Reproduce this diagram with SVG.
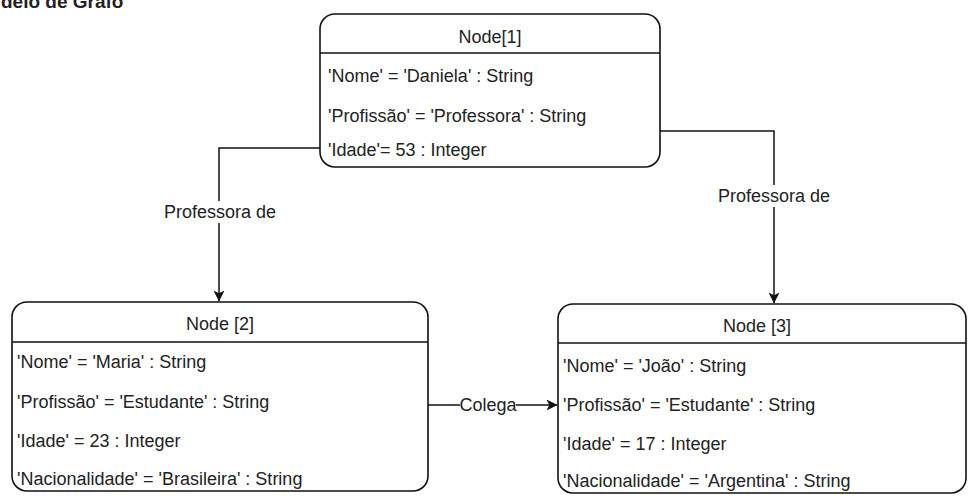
<svg xmlns="http://www.w3.org/2000/svg" width="970" height="496" viewBox="0 0 970 496">
<style>
text{font-family:"Liberation Sans",Arial,sans-serif;font-size:18px;fill:#222}
.t{text-anchor:middle}
.box{fill:#fff;stroke:#111;stroke-width:1.6}
.sep{stroke:#111;stroke-width:1.6}
.edge{fill:none;stroke:#111;stroke-width:1.5}
.lbl{fill:#fff}
</style>
<defs>
<marker id="arr" viewBox="0 0 10 10" refX="9.5" refY="5" markerWidth="11" markerHeight="11" markerUnits="userSpaceOnUse" orient="auto">
<path d="M0,0 L10,5 L0,10 L2.5,5 Z" fill="#111"/>
</marker>
</defs>
<rect width="970" height="496" fill="#fff"/>
<text x="1" y="8" style="font-weight:bold;font-size:19px">delo de Grafo</text>
<g id="connectors">
<path class="edge" d="M320,148 H219 V301" marker-end="url(#arr)"/>
<rect class="lbl" x="163" y="201" width="112" height="22"/>
<text class="t" x="220" y="218">Professora de</text>
<path class="edge" d="M660,131 H774 V303" marker-end="url(#arr)"/>
<rect class="lbl" x="717" y="185" width="114" height="22"/>
<text class="t" x="774" y="202">Professora de</text>
<path class="edge" d="M428,405 H557" marker-end="url(#arr)"/>
<rect class="lbl" x="460" y="395" width="56" height="20"/>
<text class="t" x="488" y="411">Colega</text>
</g>
<g id="node1">
<rect class="box" x="320" y="14" width="340" height="153" rx="15"/>
<line class="sep" x1="320" y1="53" x2="660" y2="53"/>
<text class="t" x="490" y="43">Node[1]</text>
<text x="328" y="82">'Nome' = 'Daniela' : String</text>
<text x="328" y="122">'Profissão' = 'Professora' : String</text>
<text x="328" y="156">'Idade'= 53 : Integer</text>
</g>
<g id="node2">
<rect class="box" x="12" y="302" width="416" height="189" rx="15"/>
<line class="sep" x1="12" y1="342" x2="428" y2="342"/>
<text class="t" x="220" y="330">Node [2]</text>
<text x="17" y="368">'Nome' = 'Maria' : String</text>
<text x="17" y="408">'Profissão' = 'Estudante' : String</text>
<text x="17" y="447">'Idade' = 23 : Integer</text>
<text x="17" y="485">'Nacionalidade' = 'Brasileira' : String</text>
</g>
<g id="node3">
<rect class="box" x="558" y="304" width="408" height="189" rx="15"/>
<line class="sep" x1="558" y1="343" x2="966" y2="343"/>
<text class="t" x="757" y="332">Node [3]</text>
<text x="563" y="372">'Nome' = 'João' : String</text>
<text x="563" y="411">'Profissão' = 'Estudante' : String</text>
<text x="563" y="450">'Idade' = 17 : Integer</text>
<text x="563" y="487">'Nacionalidade' = 'Argentina' : String</text>
</g>
</svg>
